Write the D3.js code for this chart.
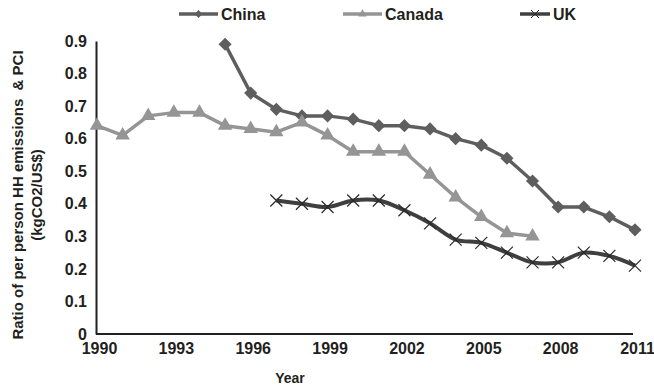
<!DOCTYPE html>
<html><head><meta charset="utf-8">
<script src="https://cdn.jsdelivr.net/npm/d3@7"></script>
<style>body{margin:0;background:#fff}svg{display:block}text{font-family:"Liberation Sans",Arial,sans-serif;font-weight:bold;fill:#231f20}</style>
</head><body>
<script>
const years = d3.range(1990, 2012);
const xTicks = [1990, 1993, 1996, 1999, 2002, 2005, 2008, 2011];
const yTicks = [0, 0.1, 0.2, 0.3, 0.4, 0.5, 0.6, 0.7, 0.8, 0.9];
const chinaYears = d3.range(1995, 2012);
const chinaValues = [0.89, 0.74, 0.69, 0.67, 0.67, 0.66, 0.64, 0.64, 0.63, 0.60, 0.58, 0.54, 0.47, 0.39, 0.39, 0.36, 0.32];
const canadaYears = d3.range(1990, 2008);
const canadaValues = [0.64, 0.61, 0.67, 0.68, 0.68, 0.64, 0.63, 0.62, 0.65, 0.61, 0.56, 0.56, 0.56, 0.49, 0.42, 0.36, 0.31, 0.30];
const ukYears = d3.range(1997, 2012);
const ukValues = [0.41, 0.40, 0.39, 0.41, 0.41, 0.38, 0.34, 0.29, 0.28, 0.25, 0.22, 0.22, 0.25, 0.24, 0.21];
const seriesNames = ["China", "Canada", "UK"];

const W = 654, H = 390;
const svg = d3.select("body").append("svg").attr("width", W).attr("height", H);
const x = d3.scaleLinear().domain([1990, 2011]).range([97, 635]);
const y = d3.scaleLinear().domain([0, 0.9]).range([334, 41]);

const series = [
  {name: seriesNames[0], years: chinaYears, values: chinaValues, color: "#5e5e5e", marker: "diamond", smooth: false},
  {name: seriesNames[1], years: canadaYears, values: canadaValues, color: "#959595", marker: "triangle", smooth: false},
  {name: seriesNames[2], years: ukYears, values: ukValues, color: "#3f3f3f", marker: "x", smooth: true}
];

// axes
const yAxis = svg.append("g").attr("transform", "translate(96,0)")
  .call(d3.axisLeft(y).tickValues(yTicks).tickSize(0).tickPadding(9).tickFormat(d => d === 0 ? "0" : d3.format(".1f")(d)));
yAxis.select(".domain").attr("stroke", "#231f20").attr("stroke-width", 2);
yAxis.selectAll("text").style("font-size", "16px").attr("fill", "#231f20");

const xAxis = svg.append("g").attr("transform", "translate(0,334)")
  .call(d3.axisBottom(x).tickValues(xTicks).tickSize(0).tickPadding(9).tickFormat(d3.format("d")));
xAxis.select(".domain").attr("stroke", "#231f20").attr("stroke-width", 2).attr("d", "M96,0H633");
xAxis.selectAll("text").style("font-size", "16px").attr("fill", "#231f20").attr("dx", "2");

// titles
svg.append("text").attr("x", 290).attr("y", 383).attr("text-anchor", "middle").style("font-size", "14px").text("Year");
const yt = svg.append("text").attr("transform", "translate(23,195) rotate(-90)").attr("text-anchor", "middle").style("font-size", "15px");
yt.append("tspan").attr("x", 0).attr("y", 0).text("Ratio of per person HH emissions  & PCI").attr("xml:space", "preserve");
yt.append("tspan").attr("x", 0).attr("y", 19).text("(kgCO2/US$)");

function drawMarker(g, type, color, cx, cy) {
  if (type === "diamond") {
    g.append("path").attr("d", d3.symbol(d3.symbolDiamond2, 110)()).attr("transform", `translate(${cx},${cy})`).attr("fill", color);
  } else if (type === "triangle") {
    g.append("path").attr("d", d3.symbol(d3.symbolTriangle2, 150)()).attr("transform", `translate(${cx},${cy})`).attr("fill", color);
  } else {
    g.append("path").attr("d", "M-6,-6L6,6M-6,6L6,-6").attr("transform", `translate(${cx},${cy})`).attr("stroke", color).attr("stroke-width", 1.2).attr("fill", "none");
  }
}

series.forEach(s => {
  const pts = s.years.map((yr, i) => [yr, s.values[i]]);
  const line = d3.line().x(d => x(d[0])).y(d => y(d[1])).curve(s.smooth ? d3.curveCatmullRom.alpha(0.5) : d3.curveLinear);
  const g = svg.append("g");
  g.append("path").attr("d", line(pts)).attr("fill", "none").attr("stroke", s.color).attr("stroke-width", s.marker === "x" ? 4 : 3.5).attr("stroke-linejoin", "round");
  pts.forEach(p => drawMarker(g, s.marker, s.marker === "x" ? "#2a2a2a" : s.color, x(p[0]), y(p[1])));
});

// legend
const legendPos = [{lx: 179, tx: 221}, {lx: 343, tx: 385}, {lx: 520, tx: 553}];
series.forEach((s, i) => {
  const g = svg.append("g");
  const L = legendPos[i];
  const len = L.tx - 3 - L.lx;
  g.append("line").attr("x1", L.lx).attr("x2", L.lx + len).attr("y1", 14).attr("y2", 14).attr("stroke", s.color).attr("stroke-width", 3.5);
  if (s.marker === "diamond") g.append("path").attr("d", d3.symbol(d3.symbolDiamond2, 40)()).attr("transform", `translate(${L.lx + len / 2},14)`).attr("fill", s.color);
  else if (s.marker === "triangle") g.append("path").attr("d", d3.symbol(d3.symbolTriangle2, 50)()).attr("transform", `translate(${L.lx + len / 2},14)`).attr("fill", s.color);
  else g.append("path").attr("d", "M-4,-4L4,4M-4,4L4,-4").attr("transform", `translate(${L.lx + len / 2},14)`).attr("stroke", "#2a2a2a").attr("stroke-width", 1);
  g.append("text").attr("x", L.tx).attr("y", 20).style("font-size", "16px").text(s.name);
});
</script>
</body></html>
